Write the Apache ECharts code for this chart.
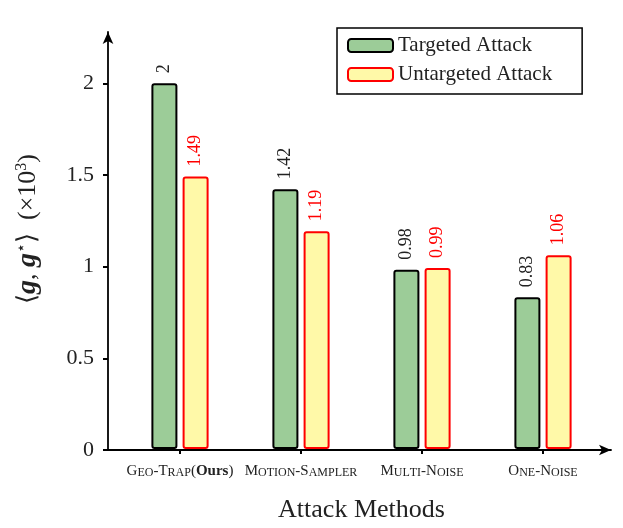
<!DOCTYPE html>
<html>
<head>
<meta charset="utf-8">
<script src="https://cdn.jsdelivr.net/npm/echarts@6/dist/echarts.min.js"></script>
<style>
  html, body { margin: 0; padding: 0; background: #fff; }
  #chart { width: 623px; height: 528px; }
</style>
</head>
<body>
<div id="chart"></div>
<script>
const methods = ['Geo-Trap(Ours)', 'Motion-Sampler', 'Multi-Noise', 'One-Noise']
const targeted = [2, 1.42, 0.98, 0.83]
const untargeted = [1.49, 1.19, 0.99, 1.06]
const yTicks = [0, 0.5, 1, 1.5, 2]

const serif = 'Liberation Serif'

// fake small caps: capitals big, lowercase turned into small capitals
const smallCaps = (text) => {
  let out = ''
  const parts = text.split('(Ours)')
  for (const ch of parts[0]) {
    if (ch >= 'a' && ch <= 'z') out += '{sc|' + ch.toUpperCase() + '}'
    else out += '{big|' + ch + '}'
  }
  if (parts.length > 1) out += '{big|(}{bold|Ours}{big|)}'
  return out
}

const chart = echarts.init(document.getElementById('chart'))

chart.setOption({
  animation: false,
  backgroundColor: '#fff',
  textStyle: { fontFamily: serif },
  legend: {
    orient: 'vertical',
    left: 337,
    top: 28,
    padding: [7, 30, 9, 10],
    itemGap: 8,
    itemWidth: 45,
    itemHeight: 13,
    icon: 'roundRect',
    borderColor: '#000',
    borderWidth: 1.5,
    borderRadius: 0,
    textStyle: { fontFamily: serif, fontSize: 21, color: '#222' },
    data: ['Targeted Attack', 'Untargeted Attack']
  },
  grid: [
    { left: 119.5, right: 19.5, top: 32, bottom: 78 },
    { left: 108, right: 12, top: 32, bottom: 78 }
  ],
  xAxis: [
    {
      type: 'category',
      gridIndex: 0,
      data: methods,
      axisLine: { show: false },
      axisTick: {
        show: true,
        interval: 0,
        alignWithLabel: true,
        length: 5,
        lineStyle: { color: '#000', width: 2 }
      },
      axisLabel: {
        interval: 0,
        hideOverlap: false,
        margin: 15,
        color: '#222',
        formatter: (v) => smallCaps(v),
        rich: {
          big: { fontFamily: serif, fontSize: 15, color: '#222', verticalAlign: 'bottom' },
          sc: { fontFamily: serif, fontSize: 12, color: '#222', verticalAlign: 'bottom' },
          bold: { fontFamily: serif, fontSize: 15, fontWeight: 'bold', color: '#222', verticalAlign: 'bottom' }
        }
      },
      name: 'Attack Methods',
      nameLocation: 'middle',
      nameGap: 48,
      nameTextStyle: { fontFamily: serif, fontSize: 26, color: '#222' }
    },
    {
      type: 'value',
      gridIndex: 1,
      min: 0,
      max: 1,
      axisLine: {
        show: true,
        symbol: ['none', 'arrow'],
        symbolSize: [8, 12],
        lineStyle: { color: '#000', width: 1.8 }
      },
      axisTick: { show: false },
      axisLabel: { show: false },
      splitLine: { show: false }
    }
  ],
  yAxis: [
    {
      type: 'value',
      gridIndex: 0,
      min: 0,
      max: 2.28,
      show: false
    },
    {
      type: 'value',
      gridIndex: 1,
      min: 0,
      max: 2.28,
      axisLine: {
        show: true,
        symbol: ['none', 'arrow'],
        symbolSize: [8, 12],
        lineStyle: { color: '#000', width: 1.8 }
      },
      axisTick: {
        customValues: yTicks,
        length: 5,
        lineStyle: { color: '#000', width: 2 }
      },
      axisLabel: {
        customValues: yTicks,
        margin: 14,
        fontFamily: serif,
        fontSize: 22,
        color: '#222'
      },
      splitLine: { show: false },
      name: '⟨{bi|g}, {bi|g}{sup|⋆}⟩  (×10{sup|3})',
      nameLocation: 'middle',
      nameRotate: 90,
      nameGap: 66,
      nameTextStyle: {
        fontFamily: serif,
        fontSize: 26,
        color: '#222',
        padding: [0, 0, 0, 24],
        rich: {
          bi: { fontFamily: serif, fontSize: 28, fontWeight: 'bold', fontStyle: 'italic', color: '#222' },
          sup: { fontFamily: serif, fontSize: 16, color: '#222', verticalAlign: 'top' }
        }
      }
    }
  ],
  series: [
    {
      name: 'Targeted Attack',
      type: 'bar',
      xAxisIndex: 0,
      yAxisIndex: 0,
      barWidth: 26,
      barGap: '20%',
      data: targeted,
      itemStyle: {
        color: '#9ccc98',
        borderColor: '#000',
        borderWidth: 2,
        borderRadius: 2
      },
      label: {
        show: true,
        position: 'top',
        rotate: 90,
        align: 'left',
        verticalAlign: 'middle',
        distance: 10,
        fontFamily: serif,
        fontSize: 18,
        color: '#222'
      }
    },
    {
      name: 'Untargeted Attack',
      type: 'bar',
      xAxisIndex: 0,
      yAxisIndex: 0,
      barWidth: 26,
      data: untargeted,
      itemStyle: {
        color: '#fff9a8',
        borderColor: '#ff0000',
        borderWidth: 2,
        borderRadius: 2
      },
      label: {
        show: true,
        position: 'top',
        rotate: 90,
        align: 'left',
        verticalAlign: 'middle',
        distance: 10,
        fontFamily: serif,
        fontSize: 18,
        color: '#ff0000'
      }
    }
  ]
})
</script>
</body>
</html>
